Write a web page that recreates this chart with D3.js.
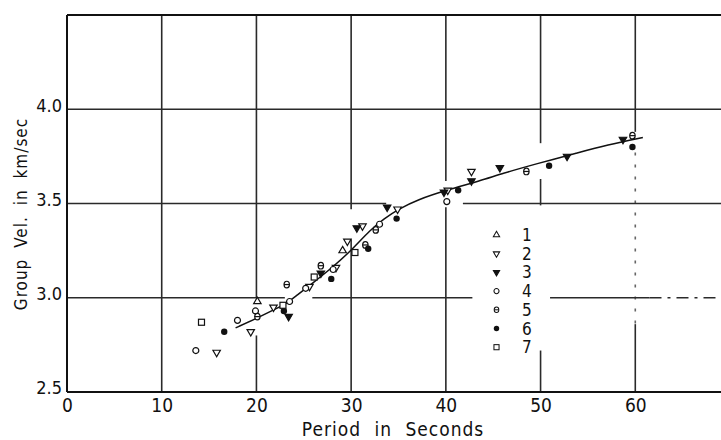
<!DOCTYPE html>
<html>
<head>
<meta charset="utf-8">
<script src="https://cdn.jsdelivr.net/npm/d3@7"></script>
<style>
  html, body { margin: 0; padding: 0; background: #fff; }
  svg { display: block; }
  text { font-family: "DejaVu Sans Condensed", "DejaVu Sans", sans-serif; fill: #111; }
</style>
</head>
<body>
<div id="chart"></div>
<script>
// データ (読み取り値: 周期 [s], 群速度 [km/s])
const xTicks = [0, 10, 20, 30, 40, 50, 60];
const yTicks = [2.5, 3.0, 3.5, 4.0];
const legendLabels = ["1", "2", "3", "4", "5", "6", "7"];

const series1 = [[20.1, 2.98], [29.1, 3.25]];
const series2 = [[15.8, 2.71], [19.4, 2.82], [21.8, 2.95], [25.6, 3.06], [28.4, 3.16],
                 [29.6, 3.30], [31.2, 3.38], [34.9, 3.47], [40.2, 3.57], [42.7, 3.67]];
const series3 = [[23.4, 2.90], [26.8, 3.13], [30.6, 3.37], [33.8, 3.48], [39.8, 3.56],
                 [42.7, 3.62], [45.7, 3.69], [52.8, 3.75], [58.7, 3.84]];
const series4 = [[13.6, 2.72], [18.0, 2.88], [19.9, 2.93], [23.5, 2.98], [25.2, 3.05],
                 [28.1, 3.15], [33.0, 3.39], [40.1, 3.51]];
const series5 = [[20.1, 2.90], [23.2, 3.07], [26.8, 3.17], [31.5, 3.28], [32.6, 3.36],
                 [48.5, 3.67], [59.7, 3.86]];
const series6 = [[16.6, 2.82], [22.9, 2.93], [27.9, 3.10], [31.8, 3.26], [34.8, 3.42],
                 [41.3, 3.57], [50.9, 3.70], [59.7, 3.80]];
const series7 = [[14.2, 2.87], [22.8, 2.96], [26.1, 3.11], [30.4, 3.24]];

// 平均曲線
const curvePoints = [[17.8, 2.84], [20, 2.89], [22, 2.94], [23.2, 2.97], [24.2, 3.01],
                     [26, 3.08], [28, 3.16], [30, 3.25], [32, 3.36], [33.5, 3.42],
                     [35, 3.47], [37, 3.52], [40, 3.57], [43.6, 3.62], [46, 3.66],
                     [49.5, 3.71], [54, 3.77], [57, 3.81], [60.8, 3.85]];

const allSeries = [series1, series2, series3, series4, series5, series6, series7];
const markerTypes = ["triUp", "triDown", "triDownFill", "circle", "theta", "dot", "square"];

const width = 721, height = 440;

const x = d3.scaleLinear().domain([0, 70]).range([67, 730]);
const y = d3.scaleLinear().domain([2.5, 4.5]).range([392, 15]);

const svg = d3.select("#chart").append("svg")
    .attr("width", width)
    .attr("height", height);

// グリッド (原図の途切れを再現: データ単位の区間)
const vGrid = [
    { v: 10, segs: [[4.5, 2.5]] },
    { v: 20, segs: [[4.5, 3.0], [2.80, 2.5]] },
    { v: 30, segs: [[4.5, 3.47], [3.31, 2.5]] },
    { v: 40, segs: [[4.5, 3.62], [3.48, 2.5]] },
    { v: 50, segs: [[4.5, 3.82], [3.63, 3.49], [2.72, 2.5]] },
    { v: 60, segs: [[4.5, 3.88], [2.86, 2.5]], dashed: [[3.77, 2.86]] }
];
const hGrid = [
    { v: 4.0, segs: [[0, 70]] },
    { v: 3.5, segs: [[0, 33.7], [41.8, 70]] },
    { v: 3.0, segs: [[0, 23.0], [25.9, 42.8], [51, 61.5]], dashed: [[61.5, 70]] }
];

const grid = svg.append("g").attr("class", "grid")
    .attr("stroke", "#2a2a2a").attr("stroke-width", 1.6).attr("fill", "none");

vGrid.forEach(g => {
    g.segs.forEach(s => {
        grid.append("line")
            .attr("x1", x(g.v)).attr("x2", x(g.v))
            .attr("y1", y(s[0])).attr("y2", y(s[1]));
    });
    (g.dashed || []).forEach(s => {
        grid.append("line")
            .attr("x1", x(g.v)).attr("x2", x(g.v))
            .attr("y1", y(s[0])).attr("y2", y(s[1]))
            .attr("stroke-dasharray", "3,9").attr("stroke", "#666");
    });
});
hGrid.forEach(g => {
    g.segs.forEach(s => {
        grid.append("line")
            .attr("x1", x(s[0])).attr("x2", x(s[1]))
            .attr("y1", y(g.v)).attr("y2", y(g.v));
    });
    (g.dashed || []).forEach(s => {
        grid.append("line")
            .attr("x1", x(s[0])).attr("x2", x(s[1]))
            .attr("y1", y(g.v)).attr("y2", y(g.v))
            .attr("stroke-dasharray", "12,6,3,6");
    });
});

// 枠線 (左・下・上)
const frame = svg.append("g").attr("stroke", "#111").attr("fill", "none");
frame.append("line").attr("x1", x(0)).attr("x2", x(0)).attr("y1", y(4.5)).attr("y2", y(2.5)).attr("stroke-width", 2);
frame.append("line").attr("x1", x(0)).attr("x2", x(70)).attr("y1", y(2.5)).attr("y2", y(2.5)).attr("stroke-width", 2);
frame.append("line").attr("x1", x(0)).attr("x2", x(70)).attr("y1", y(4.5)).attr("y2", y(4.5)).attr("stroke-width", 1.8);

// 軸ラベル (d3軸で目盛り文字のみ)
const xAxis = d3.axisBottom(x).tickValues(xTicks).tickSize(0).tickPadding(0).tickFormat(d3.format("d"));
svg.append("g")
    .attr("transform", `translate(0,${y(2.5) + 20})`)
    .call(xAxis)
    .call(g => g.select(".domain").remove())
    .selectAll("text")
    .attr("font-size", 19)
    .attr("font-family", "DejaVu Sans Condensed, DejaVu Sans, sans-serif")
    .attr("fill", "#111")
    .attr("dy", "0");

const yAxis = d3.axisLeft(y).tickValues(yTicks).tickSize(0).tickPadding(0).tickFormat(d3.format(".1f"));
svg.append("g")
    .attr("transform", `translate(${x(0) - 5},-4)`)
    .call(yAxis)
    .call(g => g.select(".domain").remove())
    .selectAll("text")
    .attr("font-size", 18)
    .attr("font-family", "DejaVu Sans Condensed, DejaVu Sans, sans-serif")
    .attr("fill", "#111");

svg.append("text")
    .attr("x", 393).attr("y", 436)
    .attr("text-anchor", "middle")
    .attr("font-size", 19)
    .attr("letter-spacing", 1)
    .attr("word-spacing", 7)
    .text("Period in Seconds");

svg.append("text")
    .attr("transform", "translate(27,214) rotate(-90)")
    .attr("text-anchor", "middle")
    .attr("font-size", 17)
    .attr("letter-spacing", 1)
    .attr("word-spacing", 5)
    .text("Group Vel. in km/sec");

// 平均曲線
const line = d3.line()
    .x(d => x(d[0]))
    .y(d => y(d[1]))
    .curve(d3.curveBasis);

svg.append("path")
    .datum(curvePoints)
    .attr("d", line)
    .attr("fill", "none")
    .attr("stroke", "#111")
    .attr("stroke-width", 1.5);

// マーカー描画
function drawMarker(g, type) {
    const sw = 1.2;
    if (type === "triUp" || type === "triDown" || type === "triDownFill") {
        g.append("path")
            .attr("d", d3.symbol().type(d3.symbolTriangle).size(24)())
            .attr("transform", type === "triUp" ? null : "rotate(180)")
            .attr("fill", type === "triDownFill" ? "#111" : "#fff")
            .attr("stroke", "#111").attr("stroke-width", sw);
    } else if (type === "circle") {
        g.append("circle").attr("r", 3).attr("fill", "#fff").attr("stroke", "#111").attr("stroke-width", sw);
    } else if (type === "theta") {
        g.append("ellipse").attr("rx", 2.7).attr("ry", 3.3).attr("fill", "#fff").attr("stroke", "#111").attr("stroke-width", sw);
        g.append("line").attr("x1", -2.7).attr("x2", 2.7).attr("y1", 0).attr("y2", 0).attr("stroke", "#111").attr("stroke-width", 1.2);
    } else if (type === "dot") {
        g.append("circle").attr("r", 3.2).attr("fill", "#111");
    } else if (type === "square") {
        g.append("rect").attr("x", -3).attr("y", -3).attr("width", 6).attr("height", 6)
            .attr("fill", "#fff").attr("stroke", "#111").attr("stroke-width", sw);
    }
}

allSeries.forEach((data, i) => {
    svg.append("g").attr("class", "series-" + (i + 1))
        .selectAll("g")
        .data(data)
        .enter()
        .append("g")
        .attr("transform", d => `translate(${x(d[0])},${y(d[1])})`)
        .each(function() { drawMarker(d3.select(this), markerTypes[i]); });
});

// 凡例
const legend = svg.append("g").attr("class", "legend");
legendLabels.forEach((lab, i) => {
    const yy = 235 + i * 18.7;
    const mg = legend.append("g").attr("transform", `translate(496.5,${yy}) scale(0.85)`);
    drawMarker(mg, markerTypes[i]);
    legend.append("text")
        .attr("x", 522).attr("y", yy + 6)
        .attr("font-size", 17)
        .text(lab);
});
</script>
</body>
</html>
